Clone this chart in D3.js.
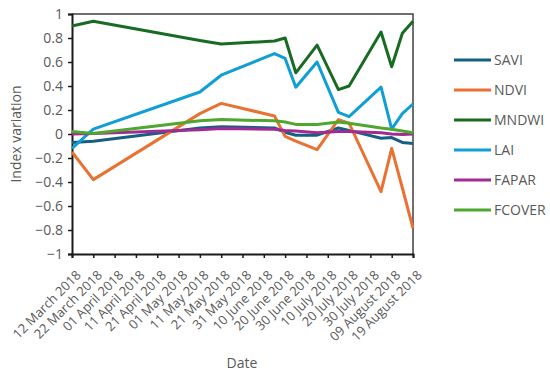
<!DOCTYPE html>
<html>
<head>
  <script src="https://d3js.org/d3.v7.min.js"></script>
  <style>
    body { margin: 0; background: #fff; }
    svg text { font-family: "Open Sans", "Liberation Sans", sans-serif; fill: #595959; }
  </style>
</head>
<body>
<div id="chart"></div>
<script>
  // acquisition dates and index values
  var dates = ["2018-03-12", "2018-03-22", "2018-05-11", "2018-05-21", "2018-06-15", "2018-06-20", "2018-06-25",
               "2018-07-05", "2018-07-15", "2018-07-20", "2018-08-04", "2018-08-09", "2018-08-14", "2018-08-19"];
  var savi   = [-0.07, -0.06, 0.05, 0.06, 0.05, 0.015, -0.01, -0.01, 0.05, 0.03, -0.035, -0.03, -0.07, -0.08];
  var ndvi   = [-0.15, -0.38, 0.17, 0.255, 0.15, -0.02, -0.06, -0.13, 0.12, 0.09, -0.48, -0.12, -0.45, -0.785];
  var mndwi  = [0.90, 0.94, 0.78, 0.75, 0.775, 0.80, 0.51, 0.74, 0.37, 0.40, 0.85, 0.56, 0.84, 0.94];
  var lai    = [-0.12, 0.04, 0.35, 0.49, 0.67, 0.63, 0.39, 0.60, 0.18, 0.145, 0.39, 0.04, 0.17, 0.25];
  var fapar  = [0.0, 0.005, 0.035, 0.045, 0.04, 0.03, 0.025, 0.01, 0.02, 0.02, 0.01, 0.0, -0.005, 0.0];
  var fcover = [0.02, 0.005, 0.11, 0.12, 0.11, 0.10, 0.08, 0.08, 0.10, 0.09, 0.05, 0.04, 0.025, 0.01];

  var seriesNames = ["SAVI", "NDVI", "MNDWI", "LAI", "FAPAR", "FCOVER"];
  var seriesColors = ["#156082", "#E97132", "#196B24", "#0F9ED5", "#A02B93", "#4EA72E"];
  var tickLabels = ["12 March 2018", "22 March 2018", "01 April 2018", "11 April 2018", "21 April 2018",
                    "01 May 2018", "11 May 2018", "21 May 2018", "31 May 2018", "10 June 2018", "20 June 2018",
                    "30 June 2018", "10 July 2018", "20 July 2018", "30 July 2018", "09 August 2018", "19 August 2018"];
  var yTicks = [1, 0.8, 0.6, 0.4, 0.2, 0, -0.2, -0.4, -0.6, -0.8, -1];

  var width = 550, height = 375;
  var margin = {left: 72, right: 137, top: 14, bottom: 121};

  var parseDate = d3.timeParse("%Y-%m-%d");
  var parseTick = d3.timeParse("%d %B %Y");
  var tickDates = tickLabels.map(parseTick);

  var x = d3.scaleTime()
    .domain([tickDates[0], tickDates[tickDates.length - 1]])
    .range([margin.left, width - margin.right]);
  var y = d3.scaleLinear()
    .domain([-1, 1])
    .range([height - margin.bottom, margin.top]);

  var svg = d3.select("#chart").append("svg")
    .attr("width", width)
    .attr("height", height);

  // frame (top + right)
  svg.append("path")
    .attr("d", "M" + x.range()[0] + "," + y(1) + "H" + x.range()[1] + "V" + y(-1))
    .attr("fill", "none")
    .attr("stroke", "#404040")
    .attr("stroke-width", 1.5);

  var fmt = function(d) { return d === 0 ? "0" : (d < 0 ? "\u2212" + Math.abs(d) : "" + d); };

  var yAxis = svg.append("g")
    .attr("transform", "translate(" + margin.left + ",0)")
    .call(d3.axisLeft(y).tickValues(yTicks).tickFormat(fmt).tickSize(4).tickPadding(5));
  yAxis.selectAll("text").style("font-size", "14px");

  var xAxis = svg.append("g")
    .attr("transform", "translate(0," + y(-1) + ")")
    .call(d3.axisBottom(x).tickValues(tickDates).tickFormat(function(d, i) { return tickLabels[i]; }).tickSize(4));
  xAxis.selectAll("text")
    .style("font-size", "13px")
    .attr("text-anchor", "end")
    .attr("x", -9)
    .attr("y", 22)
    .attr("dy", 0)
    .attr("transform", "rotate(-45)");

  [yAxis, xAxis].forEach(function(a) {
    a.select(".domain").attr("stroke", "#1a1a1a").attr("stroke-width", 2);
    a.selectAll(".tick line").attr("stroke", "#1a1a1a").attr("stroke-width", 1.5);
  });

  var allSeries = [savi, ndvi, mndwi, lai, fapar, fcover];
  var line = d3.line()
    .x(function(d) { return x(d.date); })
    .y(function(d) { return y(d.value); });

  allSeries.forEach(function(vals, i) {
    var pts = vals.map(function(v, j) { return {date: parseDate(dates[j]), value: v}; });
    svg.append("path")
      .datum(pts)
      .attr("fill", "none")
      .attr("stroke", seriesColors[i])
      .attr("stroke-width", 3)
      .attr("stroke-linejoin", "round")
      .attr("d", line);
  });

  // legend
  var legend = svg.append("g").attr("transform", "translate(454,60)");
  seriesNames.forEach(function(name, i) {
    var g = legend.append("g").attr("transform", "translate(0," + (i * 30) + ")");
    g.append("line").attr("x1", 0).attr("x2", 37)
      .attr("stroke", seriesColors[i]).attr("stroke-width", 3);
    g.append("text").attr("x", 40).attr("dy", "0.35em").style("font-size", "14px").text(name);
  });

  // axis titles
  svg.append("text")
    .attr("x", 242).attr("y", 368)
    .attr("text-anchor", "middle")
    .style("font-size", "14px")
    .text("Date");
  svg.append("text")
    .attr("transform", "translate(21," + y(0) + ") rotate(-90)")
    .attr("text-anchor", "middle")
    .style("font-size", "14px")
    .text("Index variation");
</script>
</body>
</html>
